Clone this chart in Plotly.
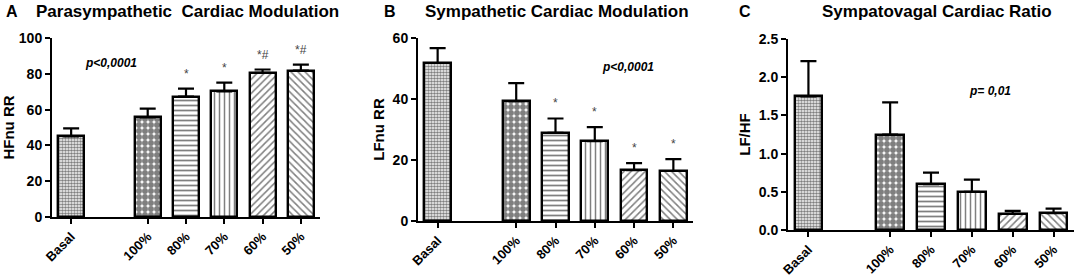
import plotly.graph_objects as go

categories = ["Basal", "100%", "80%", "70%", "60%", "50%"]
positions = [0, 2, 3, 4, 5, 6]

hf_values = [45.0, 55.6, 67.3, 70.2, 80.6, 81.8]
hf_err = [4.5, 4.9, 4.4, 4.9, 1.8, 3.3]
hf_marks = ["", "", "*", "*", "*#", "*#"]

lf_values = [51.8, 39.3, 28.9, 26.2, 16.7, 16.4]
lf_err = [4.9, 5.9, 4.7, 4.6, 2.3, 3.9]
lf_marks = ["", "", "*", "*", "*", "*"]

ratio_values = [1.75, 1.25, 0.60, 0.50, 0.21, 0.22]
ratio_err = [0.46, 0.42, 0.15, 0.16, 0.04, 0.06]

patterns = [".", ".", "-", "|", "/", "\\"]
pat_size = [3, 6, 5, 5, 5, 5]
pat_sol = [0.6, 0.75, 0.35, 0.3, 0.3, 0.3]

FONT = "Liberation Sans, Arial, sans-serif"

fig = go.Figure()

panels = [
    dict(vals=hf_values, err=hf_err, marks=hf_marks, yr=[0, 100], dtick=20,
         xd=[52/1084, 320/1084], yd=[1-217/280, 1-38/280], title="HFnu RR",
         fmt=None, p="p<0,0001", px=1.05, py=86, markoff=[0, 0, 3, 3, 3, 3]),
    dict(vals=lf_values, err=lf_err, marks=lf_marks, yr=[0, 60], dtick=20,
         xd=[418/1084, 693/1084], yd=[1-221/280, 1-38/280], title="LFnu RR",
         fmt=None, p="p<0,0001", px=4.85, py=50.5, markoff=[0, 0, 2, 2, 2, 2]),
    dict(vals=ratio_values, err=ratio_err, marks=None, yr=[0, 2.5], dtick=0.5,
         xd=[788/1084, 1074/1084], yd=[1-230/280, 1-39/280], title="LF/HF",
         fmt=".1f", p="p= 0,01", px=4.45, py=1.82, markoff=None),
]

for i, pn in enumerate(panels):
    n = "" if i == 0 else str(i + 1)
    fig.add_trace(go.Bar(
        x=positions, y=pn["vals"], width=0.68,
        xaxis="x" + n, yaxis="y" + n,
        marker=dict(color="white", line=dict(color="black", width=2.4),
                    pattern=dict(shape=patterns, size=pat_size, solidity=pat_sol,
                                 fgcolor="black", bgcolor="white")),
        error_y=dict(type="data", array=pn["err"], arrayminus=[0]*6, symmetric=False,
                     color="black", thickness=2.2, width=8),
        showlegend=False, hoverinfo="skip",
    ))
    xa = dict(domain=pn["xd"], range=[-0.5, 6.5], anchor="y" + n, automargin=False,
              tickvals=positions, ticktext=categories, tickangle=-45,
              showline=True, linecolor="black", linewidth=2, ticks="outside",
              ticklen=5, tickwidth=1.5, tickcolor="black", showgrid=False, zeroline=False,
              tickfont=dict(family=FONT, size=13, color="black", weight="bold"))
    ya = dict(domain=pn["yd"], range=pn["yr"], dtick=pn["dtick"], anchor="x" + n,
              automargin=False,
              showline=True, linecolor="black", linewidth=2, ticks="outside",
              ticklen=5, tickwidth=1.5, tickcolor="black", showgrid=False, zeroline=False,
              tickfont=dict(family=FONT, size=14, color="black", weight="bold"),
              title=dict(text=pn["title"], standoff=4,
                         font=dict(family=FONT, size=15, color="black", weight="bold")))
    if pn["fmt"]:
        ya["tickformat"] = pn["fmt"]
    fig.update_layout(**{"xaxis" + n: xa, "yaxis" + n: ya})
    fig.add_annotation(x=pn["px"], y=pn["py"], xref="x" + n, yref="y" + n,
                       text="<i>" + pn["p"] + "</i>", showarrow=False,
                       font=dict(family=FONT, size=12, color="black", weight="bold"))
    if pn["marks"]:
        for j, m in enumerate(pn["marks"]):
            if m:
                fig.add_annotation(x=positions[j], y=pn["vals"][j] + pn["err"][j] + pn["markoff"][j],
                                   xref="x" + n, yref="y" + n, text=m, showarrow=False,
                                   yanchor="bottom",
                                   font=dict(family=FONT, size=12, color="#444"))

titles = [("A", 12, "Parasympathetic  Cardiac Modulation", 187),
          ("B", 390, "Sympathetic Cardiac Modulation", 557),
          ("C", 745, "Sympatovagal Cardiac Ratio", 937)]
for letter, lx, t, tx in titles:
    fig.add_annotation(x=lx/1084, y=1-12/280, xref="paper", yref="paper", text=letter,
                       showarrow=False, xanchor="center", yanchor="middle",
                       font=dict(family=FONT, size=16, color="black", weight="bold"))
    fig.add_annotation(x=tx/1084, y=1-12/280, xref="paper", yref="paper", text=t,
                       showarrow=False, xanchor="center", yanchor="middle",
                       font=dict(family=FONT, size=17, color="black", weight="bold"))

fig.update_layout(width=1084, height=280, margin=dict(l=0, r=0, t=0, b=0),
                  plot_bgcolor="white", paper_bgcolor="white", bargap=0)

fig.write_html("out.html", config={"displayModeBar": False},
               post_script="document.body.style.margin='0';")
